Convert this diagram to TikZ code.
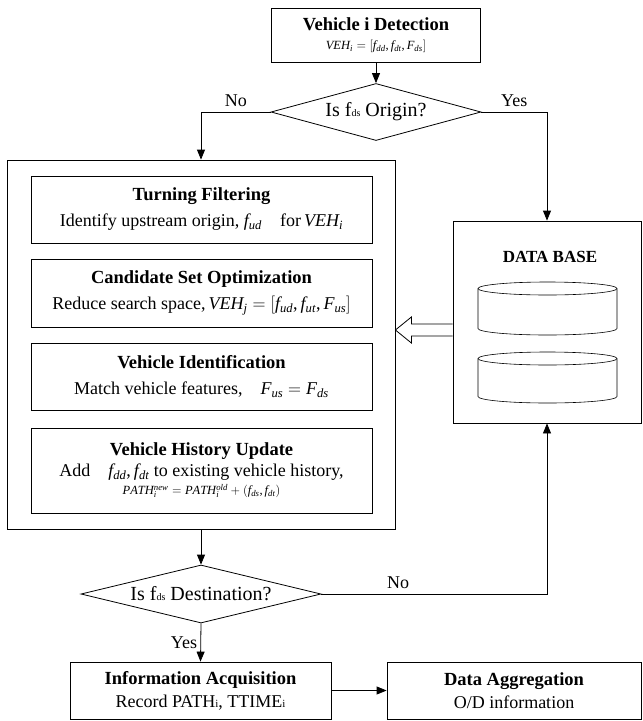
\documentclass[tikz,border=0pt]{standalone}
\usepackage{fix-cm}
\usepackage{fontspec}
\setmainfont{Liberation Serif}
\DeclareSymbolFont{letters}{TU}{\rmdefault}{m}{it}
\AtBeginDocument{\mathcode`\,="602C}
\usetikzlibrary{shapes.geometric,calc,arrows.meta}

\tikzset{
  box/.style={draw, line width=0.8pt, align=center, inner sep=2pt,
    font=\fontsize{18}{26}\selectfont},
  decision/.style={draw, diamond, aspect=3.7, inner sep=0pt, line width=0.8pt,
    font=\fontsize{20}{22}\selectfont},
  lab/.style={font=\fontsize{18}{20}\selectfont},
  arr/.style={line width=0.8pt, -{Triangle[length=10pt,width=8pt]}},
}
\newcommand{\fds}{f{\fontsize{10}{10}\selectfont ds}}
\newcommand{\ttlf}{\fontsize{18.5}{22}\selectfont\bfseries}
\newcommand{\smallf}{\fontsize{12.5}{14}\selectfont}

\begin{document}
\begin{tikzpicture}[x=1pt,y=1pt]
  \useasboundingbox (0,0) rectangle (643,-721);
  \node[box, minimum width=209, minimum height=54] (detect) at (376,-35)
    {{\ttlf Vehicle i Detection}\\[-7pt]{\smallf $VEH_i=[f_{dd},f_{dt},F_{ds}]$}};
  \node[decision, minimum width=210, minimum height=57] (orig) at (376,-112) {Is \fds{} Origin?};
  % matching process
  \node[draw, line width=0.8pt, minimum width=388, minimum height=369] (proc) at (201,-344.5) {};
  \node[box, minimum width=341, minimum height=67] (turn) at (201.5,-209.5)
    {{\ttlf Turning Filtering}\\Identify upstream origin, $f_{ud}$\quad for\,$VEH_i$};
  \node[box, minimum width=341, minimum height=68] (cand) at (201.5,-293)
    {{\ttlf Candidate Set Optimization}\\Reduce search space,\,$VEH_j=[f_{ud},f_{ut},F_{us}]$};
  \node[box, minimum width=341, minimum height=67] (ident) at (201.5,-376.5)
    {{\ttlf Vehicle Identification}\\Match vehicle features,\quad $F_{us}=F_{ds}$};
  \node[box, minimum width=341, minimum height=85] (hist) at (201.5,-470.5)
    {{\ttlf Vehicle History Update}\\[-5pt]Add\quad $f_{dd},f_{dt}$ to existing vehicle history,\\[-8pt]
     {\smallf $PATH_i^{new}=PATH_i^{old}+(f_{ds},f_{dt})$}};
  % data base
  \node[draw, line width=0.8pt, minimum width=188, minimum height=202] (db) at (547,-322) {};
  \node[font=\fontsize{17}{20}\selectfont\bfseries] (dbname) at (550,-257) {DATA BASE};
  \foreach \t/\b in {282/335, 352/403}{
    \draw[line width=0.6pt] (547.5,-\t-6.5) ellipse (69.5 and 6.5);
    \draw[line width=0.6pt] (478,-\t-6.5) -- (478,-\b+6.5) arc (180:360:69.5 and 6.5) -- (617,-\t-6.5);
  }
  \node[decision, minimum width=240, minimum height=58] (dest) at (201,-594) {Is \fds{} Destination?};
  \node[box, minimum width=261, minimum height=57] (info) at (200.5,-690.5)
    {{\ttlf Information Acquisition}\\[-3pt]Record PATH{\fontsize{11}{11}\selectfont i}, TTIME{\fontsize{11}{11}\selectfont i}};
  \node[box, minimum width=254, minimum height=57] (agg) at (514,-690.5)
    {{\ttlf Data Aggregation}\\[-3pt]O/D information};
  % connectors
  \draw[arr] (detect) -- (orig);
  \draw[arr] (orig.west) -| (proc.north) node[lab, pos=0.25, above=2pt]{No};
  \draw[arr] (orig.east) -| (db.north) node[lab, pos=0.25, above=2pt]{Yes};
  \draw[arr] (proc.south) -- (dest.north);
  \draw[arr] (dest.east) -| (db.south) node[lab, pos=0.17, above=2pt]{No};
  \draw[arr] (dest.south) -- (info.north) node[lab, midway, left]{Yes};
  \draw[arr] (info.east) -- (agg.west);
  \coordinate (ht) at (proc.east |- 0,-330);
  \coordinate (hb) at (db.west |- 0,-330);
  \draw[line width=0.8pt] ($(hb)+(0,6)$) -- ($(ht)+(16,6)$) -- ($(ht)+(16,13)$) -- (ht)
    -- ($(ht)+(16,-13)$) -- ($(ht)+(16,-6)$) -- ($(hb)+(0,-6)$);
\end{tikzpicture}
\end{document}
